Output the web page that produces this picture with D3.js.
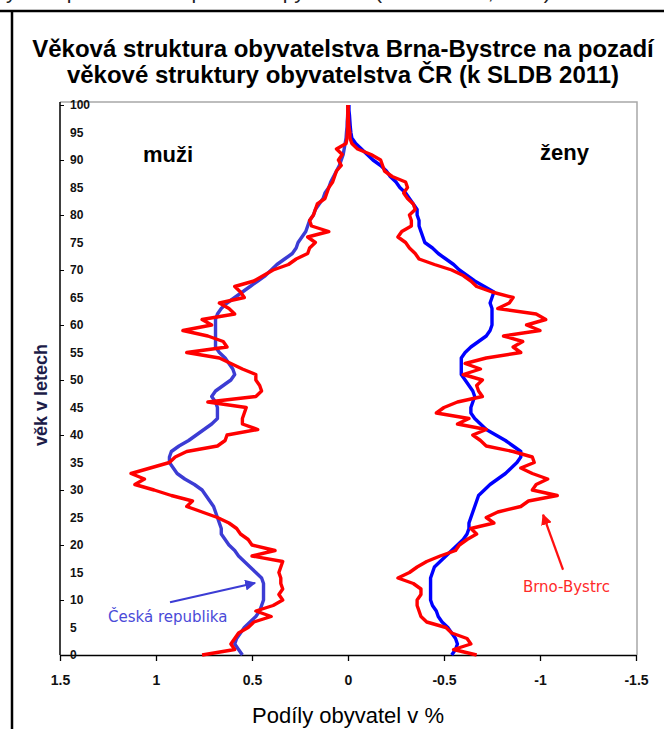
<!DOCTYPE html>
<html>
<head>
<meta charset="utf-8">
<script src="https://d3js.org/d3.v7.min.js"></script>
<style>
    body { margin: 0; background: #fff; }
    svg { font-family: Arial, "Liberation Sans", sans-serif; }
</style>
</head>
<body>
<div id="my_dataviz"></div>
<script>

// ages 0..100 (one value per year of age)
var ages = d3.range(0, 101);

// share of population in % - men (plotted to the left, positive)
var muziCR = [0.55,0.57,0.59,0.58,0.56,0.54,0.51,0.48,0.46,0.45,
              0.44,0.44,0.44,0.44,0.45,0.48,0.51,0.54,0.57,0.59,
              0.62,0.64,0.66,0.66,0.67,0.68,0.69,0.70,0.72,0.74,
              0.76,0.80,0.85,0.89,0.91,0.93,0.93,0.92,0.88,0.83,
              0.79,0.75,0.71,0.68,0.68,0.68,0.69,0.71,0.69,0.65,
              0.61,0.59,0.60,0.62,0.64,0.67,0.69,0.69,0.69,0.69,
              0.69,0.69,0.68,0.66,0.63,0.59,0.55,0.51,0.47,0.43,
              0.40,0.37,0.33,0.29,0.27,0.26,0.24,0.22,0.21,0.20,
              0.18,0.17,0.15,0.13,0.12,0.10,0.09,0.075,0.06,0.045,
              0.035,0.025,0.02,0.015,0.01,0.008,0.005,0.004,0.002,0.001,
              0.001];
var muziBB = [0.76,0.59,0.61,0.59,0.57,0.52,0.49,0.40,0.48,0.39,
              0.34,0.36,0.34,0.35,0.35,0.36,0.35,0.34,0.50,0.38,
              0.50,0.52,0.56,0.58,0.62,0.68,0.76,0.84,0.81,0.92,
              1.01,1.11,1.06,1.13,1.03,0.93,0.90,0.84,0.68,0.64,
              0.63,0.47,0.55,0.55,0.54,0.53,0.73,0.48,0.45,0.46,
              0.48,0.48,0.55,0.61,0.67,0.84,0.63,0.65,0.73,0.86,
              0.71,0.76,0.59,0.62,0.67,0.54,0.56,0.59,0.49,0.44,
              0.39,0.31,0.27,0.21,0.20,0.17,0.21,0.10,0.19,0.20,
              0.18,0.17,0.16,0.12,0.11,0.10,0.08,0.07,0.06,0.035,
              0.05,0.03,0.06,0.01,0.005,0.003,0.002,0.002,0.001,0.001,
              0.0];

// women (plotted to the right, negative)
var zenyCR = [-0.54,-0.56,-0.57,-0.56,-0.54,-0.52,-0.49,-0.47,-0.46,-0.44,
              -0.43,-0.43,-0.43,-0.43,-0.43,-0.44,-0.45,-0.48,-0.51,-0.54,
              -0.57,-0.60,-0.62,-0.63,-0.63,-0.64,-0.65,-0.66,-0.67,-0.68,
              -0.71,-0.74,-0.78,-0.82,-0.85,-0.88,-0.90,-0.90,-0.86,-0.82,
              -0.77,-0.72,-0.69,-0.66,-0.64,-0.64,-0.65,-0.66,-0.65,-0.63,
              -0.61,-0.59,-0.59,-0.59,-0.59,-0.61,-0.64,-0.68,-0.72,-0.74,
              -0.75,-0.75,-0.75,-0.75,-0.74,-0.75,-0.76,-0.71,-0.66,-0.62,
              -0.58,-0.55,-0.51,-0.47,-0.44,-0.40,-0.39,-0.38,-0.37,-0.37,
              -0.36,-0.36,-0.34,-0.32,-0.30,-0.27,-0.25,-0.22,-0.20,-0.17,
              -0.13,-0.10,-0.07,-0.04,-0.02,-0.015,-0.012,-0.01,-0.008,-0.005,
              -0.005];
var zenyBB = [-0.67,-0.55,-0.64,-0.62,-0.54,-0.51,-0.41,-0.38,-0.37,-0.36,
              -0.36,-0.38,-0.38,-0.34,-0.26,-0.32,-0.36,-0.41,-0.48,-0.56,
              -0.58,-0.62,-0.67,-0.64,-0.76,-0.72,-0.78,-0.90,-0.94,-1.09,
              -0.96,-0.98,-1.04,-0.96,-0.90,-0.97,-0.96,-0.86,-0.72,-0.69,
              -0.65,-0.72,-0.57,-0.63,-0.46,-0.50,-0.57,-0.70,-0.68,-0.67,
              -0.70,-0.60,-0.69,-0.61,-0.72,-0.90,-0.86,-0.91,-0.81,-1.00,
              -0.93,-1.03,-0.98,-0.78,-0.84,-0.86,-0.75,-0.67,-0.64,-0.60,
              -0.54,-0.45,-0.37,-0.35,-0.32,-0.30,-0.26,-0.28,-0.33,-0.33,
              -0.32,-0.35,-0.34,-0.31,-0.29,-0.31,-0.30,-0.23,-0.19,-0.18,
              -0.17,-0.12,-0.05,-0.02,-0.01,-0.01,-0.005,-0.003,-0.002,-0.001,
              0.0];

// tick labels
var xTicks = [1.5, 1, 0.5, 0, -0.5, -1, -1.5];
var yLabels = d3.range(0, 101, 5);
var yTicks = d3.range(0, 101, 10);

var width = 664, height = 729;

var svg = d3.select("#my_dataviz")
    .append("svg")
    .attr("width", width)
    .attr("height", height);

// caption of the page, mostly cut off at the top
svg.append("text")
    .attr("x", 6)
    .attr("y", -1)
    .attr("font-size", 21)
    .attr("fill", "#222")
    .text("yvatel podle věku a pohlaví – pyramida (SLDB 2011, ČSÚ)");

// outer box
svg.append("line").attr("x1", 0).attr("x2", width).attr("y1", 11).attr("y2", 11)
    .attr("stroke", "#000").attr("stroke-width", 2.5);
svg.append("line").attr("x1", 12).attr("x2", 12).attr("y1", 10).attr("y2", height)
    .attr("stroke", "#000").attr("stroke-width", 2.5);

// title
svg.append("text")
    .attr("x", 343).attr("y", 57)
    .attr("text-anchor", "middle")
    .attr("font-size", 24).attr("font-weight", "bold")
    .text("Věková struktura obyvatelstva Brna-Bystrce na pozadí");
svg.append("text")
    .attr("x", 343).attr("y", 83)
    .attr("text-anchor", "middle")
    .attr("font-size", 24).attr("font-weight", "bold")
    .text("věkové struktury obyvatelstva ČR (k SLDB 2011)");

// scales
var x = d3.scaleLinear().domain([1.5, -1.5]).range([60, 636]);
var y = d3.scaleLinear().domain([0, 100]).range([655, 105]);

// plot frame (grey top and right)
svg.append("path")
    .attr("d", "M" + x(1.5) + "," + (y(100) - 3) + "H" + (x(-1.5) + 1) + "V" + y(0))
    .attr("fill", "none")
    .attr("stroke", "#a8a8a8")
    .attr("stroke-width", 1.5);

// X axis
var xAxis = svg.append("g")
    .attr("transform", "translate(0," + y(0) + ")")
    .call(d3.axisBottom(x).tickValues(xTicks).tickSize(6).tickSizeOuter(0).tickPadding(14)
        .tickFormat(function(d) { return String(d); }));
xAxis.select(".domain").attr("stroke-width", 1.5);
xAxis.selectAll(".tick line").attr("stroke-width", 1.3);
xAxis.selectAll("text")
    .attr("font-size", 14).attr("font-weight", "bold")
    .attr("font-family", "Arial, 'Liberation Sans', sans-serif")
    .attr("fill", "#111");

// Y axis: line + inner ticks every 10
var yAxis = svg.append("g")
    .attr("transform", "translate(" + x(1.5) + ",0)")
    .call(d3.axisRight(y).tickValues(yTicks).tickSize(4).tickSizeOuter(0).tickFormat(""));
yAxis.select(".domain").attr("d", "M0," + (y(100) - 3) + "V" + y(0)).attr("stroke-width", 1.5);

// Y labels every 5, inside the plot
var yLab = svg.append("g")
    .attr("transform", "translate(" + x(1.5) + ",0)")
    .call(d3.axisRight(y).tickValues(yLabels).tickSize(0).tickPadding(10));
yLab.select(".domain").remove();
yLab.selectAll("text")
    .attr("font-size", 12).attr("font-weight", "bold")
    .attr("font-family", "Arial, 'Liberation Sans', sans-serif")
    .attr("fill", "#111");

// axis titles
svg.append("text")
    .attr("x", 348).attr("y", 723)
    .attr("text-anchor", "middle")
    .attr("font-size", 22)
    .text("Podíly obyvatel v %");

svg.append("text")
    .attr("transform", "translate(47,395) rotate(-90)")
    .attr("text-anchor", "middle")
    .attr("font-size", 18).attr("font-weight", "bold")
    .attr("fill", "#1c1c48")
    .text("věk v letech");

// lines
var line = function(vals) {
    return d3.line()
        .x(function(d) { return x(vals[d]); })
        .y(function(d) { return y(d); })(ages);
};

var series = [
    {vals: muziCR, color: "#3c3cd4"},
    {vals: zenyCR, color: "#0000ff"},
    {vals: muziBB, color: "#ff0000"},
    {vals: zenyBB, color: "#ff0000"}
];

svg.selectAll(".pyr")
    .data(series)
    .enter()
    .append("path")
    .attr("class", "pyr")
    .attr("d", function(s) { return line(s.vals); })
    .attr("fill", "none")
    .attr("stroke", function(s) { return s.color; })
    .attr("stroke-width", 3.4)
    .attr("stroke-linejoin", "round");

// muži / ženy
svg.append("text")
    .attr("x", x(1.068)).attr("y", y(89.6))
    .attr("font-size", 22).attr("font-weight", "bold")
    .text("muži");
svg.append("text")
    .attr("x", x(-1.0)).attr("y", y(90))
    .attr("font-size", 22).attr("font-weight", "bold")
    .text("ženy");

// annotations with arrows
var defs = svg.append("defs");
[["arrBlue", "#3c3cd4"], ["arrRed", "#ff1010"]].forEach(function(a) {
    defs.append("marker")
        .attr("id", a[0])
        .attr("viewBox", "0 0 10 10")
        .attr("refX", 9).attr("refY", 5)
        .attr("markerWidth", 5).attr("markerHeight", 5)
        .attr("orient", "auto")
        .append("path")
        .attr("d", "M0,0L10,5L0,10z")
        .attr("fill", a[1]);
});

svg.append("line")
    .attr("x1", x(0.927)).attr("y1", y(9.6))
    .attr("x2", x(0.484)).attr("y2", y(13.1))
    .attr("stroke", "#3c3cd4").attr("stroke-width", 2.2)
    .attr("marker-end", "url(#arrBlue)");
svg.append("text")
    .attr("x", x(1.25)).attr("y", y(6))
    .attr("font-family", "'DejaVu Sans', Verdana, sans-serif")
    .attr("font-size", 15)
    .attr("fill", "#4a4ad8")
    .text("Česká republika");

svg.append("line")
    .attr("x1", x(-1.12)).attr("y1", y(15.5))
    .attr("x2", x(-1.016)).attr("y2", y(25.5))
    .attr("stroke", "#ff1010").attr("stroke-width", 2.2)
    .attr("marker-end", "url(#arrRed)");
svg.append("text")
    .attr("x", x(-0.911)).attr("y", y(11.5))
    .attr("font-family", "'DejaVu Sans', Verdana, sans-serif")
    .attr("font-size", 15)
    .attr("fill", "#ff2a2a")
    .text("Brno-Bystrc");

</script>
</body>
</html>
